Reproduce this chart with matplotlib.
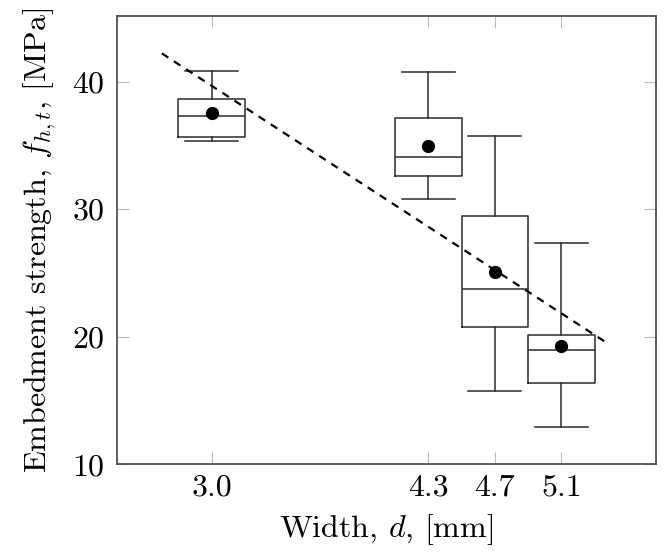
import matplotlib
matplotlib.use("Agg")
import matplotlib.pyplot as plt

# box statistics
widths = [3.0, 4.3, 4.7, 5.1]
whislo = [35.38, 30.83, 15.78, 12.96]
q1 = [35.69, 32.63, 20.75, 16.36]
med = [37.29, 34.07, 23.73, 18.93]
q3 = [38.62, 37.19, 29.50, 20.12]
whishi = [40.86, 40.78, 35.72, 27.38]
means = [37.57, 34.96, 25.11, 19.24]

# dashed trend line end points
trend_x = [2.70, 5.39]
trend_y = [42.22, 19.37]

plt.rcParams['font.family'] = 'cmr10'
plt.rcParams['mathtext.fontset'] = 'cm'
plt.rcParams['axes.unicode_minus'] = False
plt.rcParams['axes.formatter.use_mathtext'] = True

fig = plt.figure(figsize=(6.64, 5.55), dpi=100)
ax = fig.add_axes([117/664, 1 - 464.3/555, (656 - 117)/664, (464.3 - 16)/555])

stats = []
for i in range(len(widths)):
    stats.append(dict(whislo=whislo[i], q1=q1[i], med=med[i], q3=q3[i],
                      whishi=whishi[i], mean=means[i], fliers=[]))

lc = '#2b2b2b'
ax.bxp(stats, positions=widths, widths=0.4, capwidths=0.32, showmeans=True,
       boxprops=dict(color=lc, linewidth=1.1),
       whiskerprops=dict(color=lc, linewidth=1.1),
       capprops=dict(color=lc, linewidth=1.1),
       medianprops=dict(color=lc, linewidth=1.1),
       meanprops=dict(marker='o', markerfacecolor='black', markeredgecolor='black',
                      markersize=8.5),
       manage_ticks=False)

ax.plot(trend_x, trend_y, color='black', linestyle=(0, (3.5, 3)), linewidth=1.6)

ax.set_xlim(2.431, 5.668)
ax.set_ylim(10, 45.15)
ax.set_xticks(widths)
ax.set_xticklabels([f"{w:.1f}" for w in widths])
ax.set_yticks([10, 20, 30, 40])

for s in ax.spines.values():
    s.set_color('#444444')
    s.set_linewidth(1.2)

ax.tick_params(direction='in', length=8.5, width=0.8, color='#bbbbbb',
               top=True, right=True, labelsize=23)
ax.tick_params(axis='x', pad=7)
ax.tick_params(axis='y', pad=9)

ax.set_xlabel(r'Width, $d$, [mm]', fontsize=23, labelpad=8)
ax.set_ylabel(r'Embedment strength, $f_{h,t}$, [MPa]', fontsize=23, labelpad=10)

fig.savefig('out.png', dpi=100)
